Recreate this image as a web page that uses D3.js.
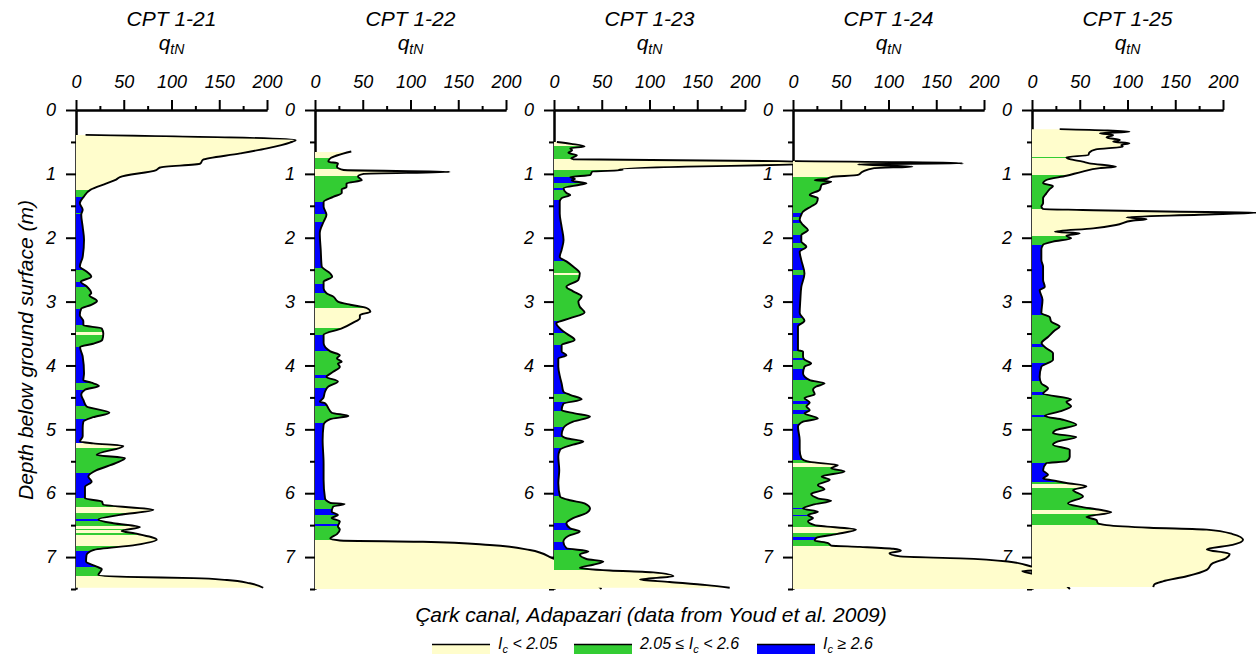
<!DOCTYPE html>
<html>
<head>
<meta charset="utf-8">
<script src="https://cdn.jsdelivr.net/npm/d3@7"></script>
<style>
  body { margin: 0; background: #fff; }
  svg { display: block; }
  text { font-family: "Liberation Sans", Arial, sans-serif; font-style: italic; fill: #000; }
</style>
</head>
<body>
<svg id="chart" width="1256" height="660"></svg>
<script>
// ---- CPT soundings: [depth (m), normalised cone resistance qtN] ----
const cpt121 = [[0.39,10],[0.47,230],[0.51,224],[0.60,200],[0.68,172],[0.78,133],[0.84,130],[0.90,88],[0.94,84],[1.05,46],[1.09,42],[1.15,32],[1.25,15],[1.36,8],[1.46,4],[1.56,7],[1.64,5.5],[1.83,7],[2.03,8.4],[2.30,7],[2.45,4],[2.53,11],[2.61,16],[2.69,5],[2.76,11],[2.87,16],[2.90,14],[2.99,22],[3.05,16],[3.11,5.5],[3.21,4],[3.31,7.7],[3.37,7.7],[3.42,27],[3.50,28.6],[3.60,27.5],[3.66,18],[3.71,4.2],[3.86,7],[4.12,8.4],[4.23,7.7],[4.27,16],[4.32,24],[4.38,9.4],[4.46,5.5],[4.54,7.7],[4.64,11],[4.74,35],[4.81,18],[4.88,7.7],[4.98,7],[5.11,7],[5.19,4.2],[5.22,18],[5.26,49.6],[5.40,21.6],[5.45,51.3],[5.53,41.5],[5.64,21.6],[5.74,12.9],[5.82,16.4],[5.90,9.4],[6.08,9.4],[6.13,27],[6.18,28.6],[6.26,81],[6.34,46],[6.41,23.4],[6.47,39],[6.53,67],[6.59,47.8],[6.63,61.8],[6.73,84.5],[6.81,62.8],[6.89,18],[6.97,11],[7.07,10.5],[7.15,21.6],[7.19,27],[7.28,23.4],[7.31,53],[7.33,123],[7.36,158],[7.41,182],[7.48,196]];
const cpt122 = [[0.65,38],[0.757,16],[0.81,14],[0.835,24],[0.887,23],[0.94,30],[0.97,141],[1.0,51],[1.04,45],[1.10,49],[1.15,33],[1.21,33],[1.24,28],[1.30,28],[1.36,19],[1.44,9],[1.51,9],[1.64,12],[1.75,9],[1.93,5],[2.19,6],[2.45,7],[2.56,16],[2.61,18],[2.69,9],[2.79,9],[2.87,12],[2.92,19],[3.0,24],[3.05,37],[3.10,54],[3.16,58],[3.21,47],[3.26,47],[3.33,40],[3.42,28],[3.52,9],[3.65,9],[3.78,16],[3.84,26],[3.89,23],[3.94,28],[3.97,24],[4.02,26],[4.10,19],[4.18,12],[4.25,24],[4.33,14],[4.41,10.5],[4.51,8.7],[4.57,5],[4.59,10.5],[4.67,14],[4.74,17.5],[4.79,35],[4.84,16],[4.93,9],[5.17,8],[5.53,9],[5.79,9],[6.08,10.5],[6.15,16],[6.17,31],[6.21,19],[6.29,17.5],[6.34,24],[6.39,17.5],[6.44,26],[6.52,24],[6.57,26],[6.64,23],[6.71,16],[6.74,26],[6.76,113],[6.81,183],[6.89,225],[7.02,249],[7.20,275],[7.50,300]];
const cpt123 = [[0.50,3],[0.53,18],[0.57,32],[0.60,17],[0.63,19],[0.67,15],[0.71,24],[0.757,18],[0.77,20],[0.80,235],[0.83,275],[0.86,236],[0.887,139],[0.93,68],[0.94,72],[0.965,40],[1.017,38],[1.05,17],[1.08,22],[1.10,18.5],[1.12,22],[1.148,34],[1.17,27],[1.226,10],[1.30,13],[1.33,17],[1.38,8],[1.435,6],[1.62,6],[1.83,8],[2.035,10],[2.19,8],[2.30,6],[2.37,13],[2.45,20],[2.557,27],[2.66,25.5],[2.766,13],[2.84,20],[2.92,29],[3.0,25.5],[3.08,27],[3.17,32],[3.26,17],[3.34,2.4],[3.445,8],[3.50,13],[3.60,21.6],[3.68,8],[3.78,8],[3.84,13],[3.89,4.5],[4.02,4.5],[4.18,6.3],[4.28,8],[4.41,9.8],[4.46,16.8],[4.53,29],[4.60,9.8],[4.70,8],[4.75,21.6],[4.80,37.7],[4.88,20],[4.98,9.8],[5.09,8],[5.14,13],[5.19,30.7],[5.24,20],[5.32,6.3],[5.43,4.5],[5.64,5.5],[5.84,4.5],[6.05,6.3],[6.11,16.8],[6.16,32],[6.24,37.7],[6.31,34],[6.39,20],[6.47,13],[6.55,16.8],[6.60,27],[6.67,15],[6.76,9.8],[6.86,13],[6.91,36],[6.96,27],[7.03,34],[7.07,51.7],[7.12,41],[7.17,27],[7.21,58.6],[7.24,104],[7.30,125],[7.35,90],[7.39,121],[7.44,160],[7.48,184]];
const cpt124 = [[0.80,2],[0.835,178],[0.85,68],[0.887,125],[0.91,85],[0.965,73],[1.017,68],[1.05,40],[1.08,35],[1.10,22.7],[1.12,40],[1.17,30],[1.25,28],[1.33,17.5],[1.38,26],[1.46,24.4],[1.51,19],[1.59,10.5],[1.64,8.7],[1.72,7],[1.80,10.5],[1.88,15.7],[1.96,8.7],[2.06,8.7],[2.14,14],[2.22,7],[2.35,8.7],[2.56,12],[2.77,8.7],[2.97,7.7],[3.18,7],[3.30,12],[3.39,5.2],[3.76,5.2],[3.78,10.5],[3.86,10.5],[3.91,12],[3.97,19],[4.02,12],[4.12,10.5],[4.23,17.5],[4.28,33],[4.33,24.4],[4.38,21],[4.45,22.7],[4.51,12],[4.58,17.5],[4.64,14],[4.70,17.5],[4.75,12],[4.83,26],[4.88,10.5],[4.96,5.2],[5.17,7],[5.32,7],[5.45,8.7],[5.51,17.5],[5.56,47],[5.61,40],[5.66,54],[5.74,30],[5.79,38.5],[5.87,26],[5.94,33],[6.01,19],[6.08,26],[6.12,40],[6.18,21],[6.24,10.5],[6.29,26],[6.34,15.7],[6.39,21],[6.44,15.7],[6.50,22.7],[6.57,66],[6.64,45.5],[6.70,24.4],[6.74,22.7],[6.78,36.7],[6.82,40],[6.84,70],[6.87,105],[6.90,113],[6.94,101],[6.99,112],[7.02,175],[7.07,225],[7.15,250],[7.20,262],[7.22,240],[7.30,265],[7.50,290]];
const cpt125 = [[0.30,29],[0.34,102],[0.365,71],[0.39,85],[0.43,78],[0.47,92],[0.496,85],[0.52,102],[0.548,93.5],[0.574,95],[0.616,67],[0.668,60],[0.705,59],[0.74,36],[0.77,39.5],[0.809,53],[0.835,60],[0.887,88],[0.91,71],[0.965,53],[1.03,36],[1.096,15],[1.148,11.6],[1.19,22],[1.24,18.5],[1.305,15],[1.38,11.6],[1.46,11.6],[1.51,9.8],[1.55,11.6],[1.565,53],[1.59,140],[1.607,236],[1.64,175],[1.68,99],[1.71,120],[1.73,106],[1.80,88],[1.853,64],[1.905,24],[1.93,50],[1.97,36],[2.01,41],[2.06,22],[2.11,11.6],[2.19,9.8],[2.35,9.8],[2.45,11.6],[2.66,11.6],[2.77,13.4],[2.82,8],[2.97,11],[3.18,9.8],[3.24,18.5],[3.31,20],[3.39,29],[3.45,24],[3.55,17],[3.65,10],[3.73,15],[3.81,22],[3.91,22],[4.02,9.8],[4.18,8],[4.28,9.8],[4.36,16.8],[4.44,11.6],[4.53,41],[4.57,36],[4.64,41],[4.72,29],[4.79,13.4],[4.85,32.5],[4.93,46.4],[5.01,25.5],[5.06,22],[5.12,46.4],[5.19,27.3],[5.24,22],[5.32,39.5],[5.43,39.5],[5.50,36],[5.53,15],[5.64,11.6],[5.71,16.8],[5.77,11.6],[5.80,22],[5.84,36],[5.89,57],[5.95,43],[6.05,53.4],[6.16,37.7],[6.21,50],[6.26,71],[6.30,83],[6.37,57],[6.42,67.4],[6.47,69],[6.50,78],[6.54,123],[6.57,183],[6.64,210],[6.73,221],[6.81,210],[6.88,183],[6.95,207],[7.02,203],[7.10,189],[7.20,183],[7.30,162],[7.38,137],[7.43,128],[7.47,127]];

// ---- Soil behaviour type intervals: [top (m), bottom (m), Ic class] ----
// class 0: Ic < 2.05, class 1: 2.05 <= Ic < 2.6, class 2: Ic >= 2.6
const ic121 = [[0.39,1.25,0],[1.25,1.36,1],[1.36,1.61,2],[1.61,1.63,1],[1.63,2.50,2],[2.50,2.69,1],[2.69,2.77,2],[2.77,3.11,1],[3.11,3.37,2],[3.37,3.47,1],[3.47,3.52,0],[3.52,3.71,1],[3.71,4.27,2],[4.27,4.38,1],[4.38,4.64,2],[4.64,4.84,1],[4.84,5.22,2],[5.22,5.29,0],[5.29,5.68,1],[5.68,6.08,2],[6.08,6.21,1],[6.21,6.31,0],[6.31,6.41,1],[6.41,6.43,2],[6.43,6.51,1],[6.51,6.56,0],[6.56,6.58,1],[6.58,6.62,0],[6.62,6.65,1],[6.65,6.82,0],[6.82,6.91,1],[6.91,7.15,2],[7.15,7.30,1],[7.30,7.5,0]];
const ic122 = [[0.65,0.757,0],[0.757,0.93,1],[0.93,1.03,0],[1.03,1.435,1],[1.435,1.63,2],[1.63,1.75,1],[1.75,2.48,2],[2.48,2.73,1],[2.73,2.86,2],[2.86,3.1,1],[3.1,3.41,0],[3.41,3.52,1],[3.52,3.78,2],[3.78,4.15,1],[4.15,4.2,2],[4.2,4.36,1],[4.36,4.64,2],[4.64,4.9,1],[4.9,6.11,2],[6.11,6.24,1],[6.24,6.34,2],[6.34,6.49,1],[6.49,6.51,2],[6.51,6.73,1],[6.73,7.5,0]];
const ic123 = [[0.50,0.57,0],[0.57,0.77,1],[0.77,0.94,0],[0.94,1.05,1],[1.05,1.14,2],[1.14,1.22,1],[1.22,1.25,2],[1.25,1.41,1],[1.41,2.36,2],[2.36,2.55,1],[2.55,2.58,0],[2.58,3.31,1],[3.31,3.49,2],[3.49,3.68,1],[3.68,4.44,2],[4.44,4.57,1],[4.57,4.72,2],[4.72,4.96,1],[4.96,5.12,2],[5.12,5.29,1],[5.29,6.05,2],[6.05,6.46,1],[6.46,6.57,2],[6.57,6.76,1],[6.76,6.89,2],[6.89,7.21,1],[7.21,7.5,0]];
const ic124 = [[0.80,1.05,0],[1.05,1.61,1],[1.61,1.67,2],[1.67,1.73,1],[1.73,1.77,2],[1.77,1.96,1],[1.96,2.08,2],[2.08,2.16,1],[2.16,2.50,2],[2.50,2.58,1],[2.58,3.26,2],[3.26,3.34,1],[3.34,3.78,2],[3.78,3.89,1],[3.89,3.91,2],[3.91,4.06,1],[4.06,4.22,2],[4.22,4.56,1],[4.56,4.60,2],[4.60,4.69,1],[4.69,4.76,2],[4.76,4.92,1],[4.92,5.48,2],[5.48,5.53,1],[5.53,5.59,0],[5.59,6.23,1],[6.23,6.25,2],[6.25,6.34,1],[6.34,6.36,2],[6.36,6.53,1],[6.53,6.62,0],[6.62,6.68,1],[6.68,6.74,2],[6.74,6.82,1],[6.82,7.5,0]];
const ic125 = [[0.30,0.74,0],[0.74,0.755,1],[0.755,1.02,0],[1.02,1.55,1],[1.55,1.97,0],[1.97,2.12,1],[2.12,3.21,2],[3.21,3.66,1],[3.66,3.71,2],[3.71,3.96,1],[3.96,4.25,2],[4.25,4.41,1],[4.41,4.46,2],[4.46,4.78,1],[4.78,4.80,2],[4.80,5.52,1],[5.52,5.82,2],[5.82,5.85,1],[5.85,5.92,0],[5.92,6.26,1],[6.26,6.32,0],[6.32,6.50,1],[6.50,7.5,0]];

const soundingNames = ["CPT 1-21", "CPT 1-22", "CPT 1-23", "CPT 1-24", "CPT 1-25"];
const profiles = [cpt121, cpt122, cpt123, cpt124, cpt125];
const icLayers = [ic121, ic122, ic123, ic124, ic125];

const qTicks = [0, 50, 100, 150, 200];
const qMinorTicks = [25, 75, 125, 175];
const depthTicks = [0, 1, 2, 3, 4, 5, 6, 7];
const depthMinorTicks = [0.5, 1.5, 2.5, 3.5, 4.5, 5.5, 6.5, 7.5];

const classColors = ["#FFFDCC", "#33CC33", "#0000FF"];
const legendLabels = [
  [["I", false], ["c", true], [" < 2.05", false]],
  [["2.05 ≤ I", false], ["c", true], [" < 2.6", false]],
  [["I", false], ["c", true], [" ≥ 2.6", false]]
];
const caption = "Çark canal, Adapazari (data from Youd et al. 2009)";
const depthTitle = "Depth below ground surface (m)";

// ---- Layout ----
const svg = d3.select("#chart");
const panelLeft = 76, panelStep = 239, panelWidth = 191;
const topY = 110, bottomY = 589;

const x = d3.scaleLinear().domain([0, 200]).range([0, panelWidth]);
const y = d3.scaleLinear().domain([0, 7.5]).range([topY, bottomY]);

const defs = svg.append("defs");
const axesLayer = svg.append("g");
const profileLayer = svg.append("g");

function styleAxis(g) {
  g.selectAll("path.domain").attr("stroke", "#000").attr("stroke-width", 2);
  g.selectAll(".tick line").attr("stroke", "#000").attr("stroke-width", 2);
  g.selectAll(".tick text")
    .attr("font-family", '"Liberation Sans", Arial, sans-serif')
    .attr("font-style", "italic")
    .attr("font-size", 18);
}

soundingNames.forEach((name, i) => {
  const ox = panelLeft + i * panelStep;
  const g = axesLayer.append("g").attr("transform", `translate(${ox},0)`);

  // titles
  g.append("text").attr("x", panelWidth / 2).attr("y", 26)
    .attr("text-anchor", "middle").attr("font-size", 21).text(name);
  const q = g.append("text").attr("x", panelWidth / 2).attr("y", 50)
    .attr("text-anchor", "middle").attr("font-size", 21);
  q.append("tspan").text("q");
  q.append("tspan").attr("font-size", 14).attr("dy", 4).text("tN");

  // qtN axis along the top
  const xa = g.append("g").attr("transform", `translate(0,${topY})`)
    .call(d3.axisTop(x).tickValues(qTicks).tickSize(10).tickSizeOuter(0).tickPadding(12));
  styleAxis(xa);
  const xm = g.append("g").attr("transform", `translate(0,${topY})`)
    .call(d3.axisTop(x).tickValues(qMinorTicks).tickSize(4).tickSizeOuter(0).tickFormat(""));
  styleAxis(xm);

  // depth axis
  const ya = g.append("g")
    .call(d3.axisLeft(y).tickValues(depthTicks).tickSize(10).tickSizeOuter(0).tickPadding(10));
  styleAxis(ya);
  const ym = g.append("g")
    .call(d3.axisLeft(y).tickValues(depthMinorTicks).tickSize(5).tickSizeOuter(0).tickFormat(""));
  styleAxis(ym);
});

// ---- Profiles: fill coloured by Ic class, clipped to the qtN area, then outline ----
const area = d3.area().curve(d3.curveMonotoneY)
  .y(d => y(d[0])).x0(x(0)).x1(d => x(d[1]));
const line = d3.line().curve(d3.curveMonotoneY)
  .y(d => y(d[0])).x(d => x(d[1]));

profiles.forEach((data, i) => {
  const ox = panelLeft + i * panelStep;
  const clipId = `profile-clip-${i}`;
  // clip coordinates live in the panel group's own user space
  defs.append("clipPath").attr("id", clipId)
    .append("path").attr("d", area(data));

  const g = profileLayer.append("g").attr("transform", `translate(${ox},0)`);
  g.append("g").attr("clip-path", `url(#${clipId})`)
    .selectAll("rect").data(icLayers[i]).join("rect")
    .attr("x", x(0)).attr("width", 700)
    .attr("y", d => y(d[0]))
    .attr("height", d => y(d[1]) - y(d[0]))
    .attr("fill", d => classColors[d[2]])
    .attr("shape-rendering", "crispEdges");

  g.append("path").attr("d", line(data))
    .attr("fill", "none").attr("stroke", "#000")
    .attr("stroke-width", 1.9).attr("stroke-linejoin", "round");
});

// ---- Depth axis title ----
svg.append("text")
  .attr("transform", "translate(33,350) rotate(-90)")
  .attr("text-anchor", "middle").attr("font-size", 21)
  .text(depthTitle);

// ---- Caption and legend ----
svg.append("text").attr("x", 651).attr("y", 622)
  .attr("text-anchor", "middle").attr("font-size", 21).text(caption);

const legendX = [432, 574, 757];
const legend = svg.append("g");
legendLabels.forEach((parts, i) => {
  const lx = legendX[i];
  legend.append("rect").attr("x", lx).attr("y", 645).attr("width", 58).attr("height", 9)
    .attr("fill", classColors[i]);
  legend.append("line").attr("x1", lx).attr("x2", lx + 58).attr("y1", 644.5).attr("y2", 644.5)
    .attr("stroke", "#000").attr("stroke-width", 1.5);
  const t = legend.append("text").attr("x", lx + 66).attr("y", 649).attr("font-size", 16);
  let shifted = false;
  parts.forEach(([s, sub]) => {
    const ts = t.append("tspan").text(s);
    if (sub) { ts.attr("font-size", 11).attr("dy", 4); shifted = true; }
    else if (shifted) { ts.attr("dy", -4); shifted = false; }
  });
});
</script>
</body>
</html>
